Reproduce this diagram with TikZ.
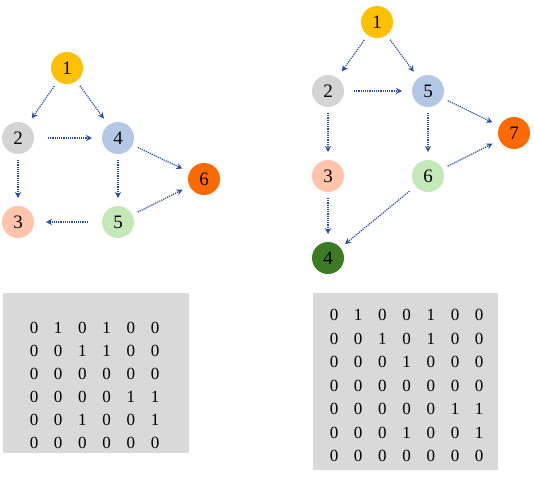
\documentclass[tikz,border=0pt]{standalone}
\usepackage{fontspec}
\setmainfont{Liberation Serif}
\usetikzlibrary{arrows.meta}
\definecolor{arrowblue}{HTML}{2A4FA0}
\definecolor{cgold}{HTML}{FFC000}
\definecolor{cgray}{HTML}{D4D4D4}
\definecolor{cblue}{HTML}{B4C8E6}
\definecolor{corange}{HTML}{FF6A00}
\definecolor{cpeach}{HTML}{FFC4AA}
\definecolor{cgreen}{HTML}{C4E8B8}
\definecolor{cdkgreen}{HTML}{3C7A24}
\definecolor{boxgray}{HTML}{D9D9D9}
\tikzset{
  vtx/.style={circle,minimum size=32pt,inner sep=0pt,outer sep=0pt,font=\fontsize{19}{19}\selectfont},
  edge/.style={draw=arrowblue,line width=1.2pt,dash pattern=on 1.2pt off 1pt,-{Stealth[length=6pt,width=6pt]},shorten <=6pt,shorten >=8pt},
  mbox/.style={fill=boxgray,draw=none},
  ent/.style={font=\fontsize{17}{17}\selectfont,inner sep=0pt}
}
\begin{document}
\begin{tikzpicture}[x=1pt,y=-1pt]
\useasboundingbox (0,0) rectangle (534,477);
% left graph
\node[vtx,fill=cgold]  (a1) at (67,68) {1};
\node[vtx,fill=cgray]  (a2) at (18,138) {2};
\node[vtx,fill=cblue]  (a4) at (118,138) {4};
\node[vtx,fill=corange](a6) at (204,179) {6};
\node[vtx,fill=cpeach] (a3) at (18,222) {3};
\node[vtx,fill=cgreen] (a5) at (118,222) {5};
\draw[edge] (a1) -- (a2);
\draw[edge] (a1) -- (a4);
\draw[edge,shorten <=14pt,shorten >=10pt] (a2) -- (a4);
\draw[edge] (a2) -- (a3);
\draw[edge] (a4) -- (a5);
\draw[edge] (a4) -- (a6);
\draw[edge,shorten <=14pt,shorten >=12pt] (a5) -- (a3);
\draw[edge] (a5) -- (a6);
% right graph
\node[vtx,fill=cgold]   (b1) at (377,22) {1};
\node[vtx,fill=cgray]   (b2) at (328,91) {2};
\node[vtx,fill=cblue]   (b5) at (428,91) {5};
\node[vtx,fill=corange] (b7) at (514,133) {7};
\node[vtx,fill=cpeach]  (b3) at (328,176) {3};
\node[vtx,fill=cgreen]  (b6) at (428,176) {6};
\node[vtx,fill=cdkgreen](b4) at (328,258) {4};
\draw[edge] (b1) -- (b2);
\draw[edge] (b1) -- (b5);
\draw[edge,shorten <=10pt,shorten >=10pt] (b2) -- (b5);
\draw[edge] (b2) -- (b3);
\draw[edge] (b5) -- (b6);
\draw[edge] (b5) -- (b7);
\draw[edge] (b3) -- (b4);
\draw[edge] (b6) -- (b7);
\draw[edge,shorten <=8pt,shorten >=6pt] (b6) -- (b4);
% left matrix
\node[mbox,minimum width=186pt,minimum height=160pt,inner sep=0pt,anchor=north west] (m1) at (3,293) {};
\foreach \r/\row in {0/{0,1,0,1,0,0},1/{0,0,1,1,0,0},2/{0,0,0,0,0,0},3/{0,0,0,0,1,1},4/{0,0,1,0,0,1},5/{0,0,0,0,0,0}}{
  \foreach \v [count=\c from 0] in \row {
    \node[ent] (l\r\c) at (34+24.2*\c,328+23*\r) {\v};
  }
}
% right matrix
\node[mbox,minimum width=185pt,minimum height=177pt,inner sep=0pt,anchor=north west] (m2) at (313,293) {};
\foreach \r/\row in {0/{0,1,0,0,1,0,0},1/{0,0,1,0,1,0,0},2/{0,0,0,1,0,0,0},3/{0,0,0,0,0,0,0},4/{0,0,0,0,0,1,1},5/{0,0,0,1,0,0,1},6/{0,0,0,0,0,0,0}}{
  \foreach \v [count=\c from 0] in \row {
    \node[ent] (r\r\c) at (334+24.2*\c,315+23.5*\r) {\v};
  }
}
\end{tikzpicture}
\end{document}
